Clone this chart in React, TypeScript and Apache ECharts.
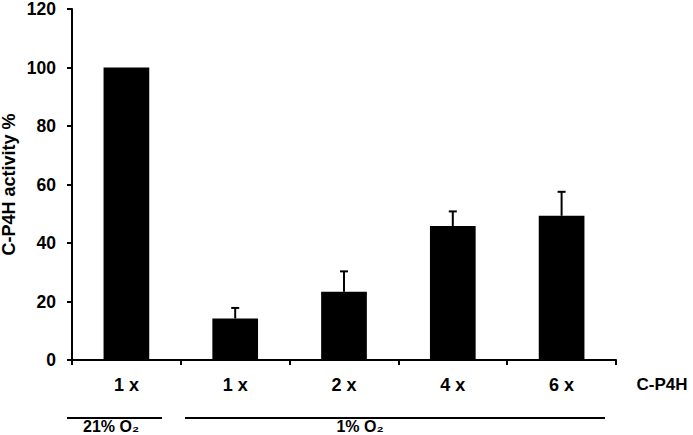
import React, { useEffect, useRef } from "react";
import * as echarts from "echarts";

const categories = ["1 x", "1 x", "2 x", "4 x", "6 x"];
const activity = [100, 14.2, 23.3, 45.8, 49.3];
const errorTop = [100, 17.8, 30.3, 50.8, 57.5];
const yTicks = { min: 0, max: 120, interval: 20 };
const groupLabels = ["21% O₂", "1% O₂"];
const axisRightLabel = "C-P4H";
const yTitle = "C-P4H activity %";

const FONT = "Arial, 'Liberation Sans', sans-serif";

export default function App() {
  const ref = useRef<HTMLDivElement>(null);
  useEffect(() => {
    if (!ref.current) return;
    const chart = echarts.init(ref.current, null, { renderer: "svg" });
    const errData = activity.map((v, i) => [i, v, errorTop[i]]);
    chart.setOption({
      animation: false,
      backgroundColor: "#ffffff",
      grid: { left: 72, right: 77, top: 9, bottom: 75, containLabel: false, outerBoundsMode: "none" },
      xAxis: {
        type: "category",
        data: categories,
        axisLine: { lineStyle: { color: "#000", width: 2 } },
        axisTick: { show: true, length: 5, lineStyle: { color: "#000", width: 2 } },
        axisLabel: { color: "#000", fontSize: 18, fontWeight: "bold", fontFamily: FONT, margin: 16 },
        splitLine: { show: false },
      },
      yAxis: {
        type: "value",
        min: yTicks.min,
        max: yTicks.max,
        interval: yTicks.interval,
        name: yTitle,
        nameLocation: "middle",
        nameGap: 54,
        nameMoveOverlap: false,
        nameTextStyle: { color: "#000", fontSize: 18, fontWeight: "bold", fontFamily: FONT },
        axisLine: { show: true, lineStyle: { color: "#000", width: 2 } },
        axisTick: { show: true, length: 5, lineStyle: { color: "#000", width: 2 } },
        axisLabel: { color: "#000", fontSize: 17.5, fontWeight: "bold", fontFamily: FONT, margin: 16 },
        splitLine: { show: false },
      },
      series: [
        {
          type: "bar",
          data: activity,
          barWidth: "42%",
          itemStyle: { color: "#000" },
          z: 2,
        },
        {
          type: "custom",
          data: errData,
          z: 3,
          renderItem: (params: any, api: any) => {
            const idx = api.value(0);
            const base = api.coord([idx, api.value(1)]);
            const top = api.coord([idx, api.value(2)]);
            if (api.value(2) <= api.value(1)) return { type: "group", children: [] };
            return {
              type: "group",
              children: [
                {
                  type: "line",
                  shape: { x1: base[0], y1: base[1], x2: top[0], y2: top[1] },
                  style: { stroke: "#000", lineWidth: 2 },
                },
                {
                  type: "line",
                  shape: { x1: top[0] - 4, y1: top[1], x2: top[0] + 4, y2: top[1] },
                  style: { stroke: "#000", lineWidth: 2 },
                },
              ],
            };
          },
        },
      ],
      graphic: [
        {
          type: "text",
          x: 662,
          y: 384,
          style: {
            text: axisRightLabel,
            fill: "#000",
            font: `bold 17px ${FONT}`,
            align: "center",
            verticalAlign: "middle",
          },
        },
        {
          type: "line",
          shape: { x1: 67, y1: 418, x2: 162, y2: 418 },
          style: { stroke: "#000", lineWidth: 2 },
        },
        {
          type: "line",
          shape: { x1: 185, y1: 418, x2: 605, y2: 418 },
          style: { stroke: "#000", lineWidth: 2 },
        },
        {
          type: "text",
          x: 111,
          y: 426,
          style: {
            text: groupLabels[0],
            fill: "#000",
            font: `bold 16px ${FONT}`,
            align: "center",
            verticalAlign: "middle",
          },
        },
        {
          type: "text",
          x: 360,
          y: 426,
          style: {
            text: groupLabels[1],
            fill: "#000",
            font: `bold 16px ${FONT}`,
            align: "center",
            verticalAlign: "middle",
          },
        },
      ],
    });
    return () => chart.dispose();
  }, []);
  return <div ref={ref} style={{ width: 693, height: 435, position: "absolute", left: 0, top: 0 }} />;
}
